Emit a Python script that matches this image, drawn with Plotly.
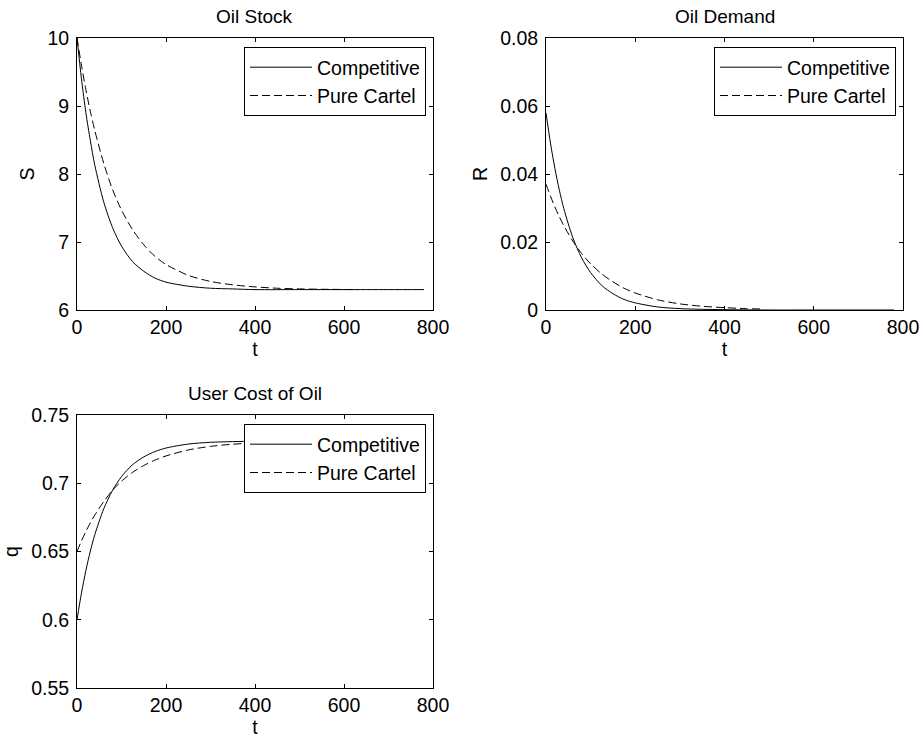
import plotly.graph_objects as go

# Time grids (years)
t_comp = [0, 10, 20, 30, 40, 60, 80, 100, 125, 150, 175, 200, 250, 300, 350, 400, 500, 600, 700, 780]
t_cart_s = [0, 10, 20, 30, 40, 60, 80, 100, 125, 150, 175, 200, 250, 300, 350, 400, 450, 500, 550, 630]
t_cart_r = [0, 10, 20, 30, 40, 60, 80, 100, 125, 150, 175, 200, 250, 300, 350, 400, 450, 480]
t_cart_q = [0, 10, 20, 30, 40, 60, 80, 100, 125, 150, 175, 200, 250, 300, 350, 400, 450, 500, 550, 630]

# Oil stock S
S_comp = [10.0, 9.40, 8.90, 8.49, 8.13, 7.59, 7.21, 6.94, 6.71, 6.57, 6.47, 6.41, 6.35, 6.32,
          6.31, 6.30, 6.30, 6.30, 6.30, 6.30]
S_cart = [10.0, 9.60, 9.24, 8.92, 8.64, 8.16, 7.77, 7.47, 7.18, 6.96, 6.79, 6.67, 6.51, 6.42,
          6.37, 6.34, 6.32, 6.31, 6.305, 6.30]

# Oil demand R
R_comp = [0.0580, 0.0491, 0.0416, 0.0352, 0.0298, 0.0213, 0.0153, 0.0110, 0.0072, 0.0048,
          0.0031, 0.0021, 0.0009, 0.0004, 0.0002, 0.0001, 0.0, 0.0, 0.0, 0.0]
R_cart = [0.0370, 0.0335, 0.0303, 0.0274, 0.0248, 0.0203, 0.0166, 0.0136, 0.0106, 0.0083,
          0.0064, 0.0050, 0.0030, 0.0018, 0.0011, 0.0007, 0.0004, 0.0003]

# User cost of oil q
q_comp = [0.600, 0.6195, 0.6361, 0.6503, 0.6623, 0.6812, 0.6949, 0.7049, 0.7136, 0.7193,
          0.7232, 0.7258, 0.7287, 0.7300, 0.7305, 0.7308, 0.7310, 0.7310, 0.7310, 0.7310]
q_cart = [0.650, 0.6577, 0.6647, 0.6710, 0.6767, 0.6865, 0.6950, 0.7015, 0.7080, 0.7130,
          0.7169, 0.7200, 0.7244, 0.7270, 0.7286, 0.7295, 0.7299, 0.7302, 0.7304, 0.7306]

series_names = ["Competitive", "Pure Cartel"]
titles = ["Oil Stock", "Oil Demand", "User Cost of Oil"]
y_labels = ["S", "R", "q"]
x_ticks = [0, 200, 400, 600, 800]
y_ticks = [
    ([6, 7, 8, 9, 10], ["6", "7", "8", "9", "10"]),
    ([0, 0.02, 0.04, 0.06, 0.08], ["0", "0.02", "0.04", "0.06", "0.08"]),
    ([0.55, 0.6, 0.65, 0.7, 0.75], ["0.55", "0.6", "0.65", "0.7", "0.75"]),
]
y_ranges = [[6, 10], [0, 0.08], [0.55, 0.75]]

FONT = "Liberation Sans, Arial, sans-serif"
FS = 19.5
W, H = 923, 742

# axes boxes in pixels: (left, right, top, bottom)
boxes = [(77, 433, 38, 310), (546, 903, 38, 310), (77, 433, 415, 688)]

panels = [
    ((t_comp, S_comp), (t_cart_s, S_cart)),
    ((t_comp, R_comp), (t_cart_r, R_cart)),
    ((t_comp, q_comp), (t_cart_q, q_cart)),
]

fig = go.Figure()
layout = dict(
    width=W, height=H, margin=dict(l=0, r=0, t=0, b=0, pad=0, autoexpand=False),
    paper_bgcolor="white", plot_bgcolor="white",
    font=dict(family=FONT, size=FS, color="black"),
    showlegend=True, annotations=[],
)

for i, ((tc, yc), (tp, yp)) in enumerate(panels):
    n = "" if i == 0 else str(i + 1)
    leg = "legend" if i == 0 else f"legend{i + 1}"
    fig.add_trace(go.Scatter(x=tc, y=yc, mode="lines", name=series_names[0],
                             line=dict(color="black", width=1, shape="spline", smoothing=0.8),
                             xaxis="x" + n, yaxis="y" + n, legend=leg))
    fig.add_trace(go.Scatter(x=tp, y=yp, mode="lines", name=series_names[1],
                             line=dict(color="black", width=1, dash="8px,4px", shape="spline", smoothing=0.8),
                             xaxis="x" + n, yaxis="y" + n, legend=leg))
    l, r, t, b = boxes[i]
    common = dict(showline=True, linecolor="black", linewidth=1, mirror="ticks",
                  ticks="inside", ticklen=4, tickcolor="black", tickwidth=1,
                  showgrid=False, zeroline=False, automargin=False, tickfont=dict(size=FS))
    layout["xaxis" + n] = dict(domain=[l / W, r / W], anchor="y" + n, range=[0, 800],
                              tickvals=x_ticks, ticktext=[str(v) for v in x_ticks],
                              title=dict(text="t", standoff=1, font=dict(size=FS)), **common)
    layout["yaxis" + n] = dict(domain=[1 - b / H, 1 - t / H], anchor="x" + n, range=y_ranges[i],
                              tickvals=y_ticks[i][0], ticktext=y_ticks[i][1],
                              ticklabelstandoff=3,
                              title=dict(text=y_labels[i], standoff=7, font=dict(size=FS)), **common)
    layout[leg] = dict(x=(r - 7) / W, y=1 - (t + 9) / H, xanchor="right", yanchor="top",
                       bgcolor="white", bordercolor="black", borderwidth=1,
                       font=dict(size=FS, family=FONT), itemwidth=62, tracegroupgap=0)
    layout["annotations"].append(dict(text=titles[i], xref="paper", yref="paper",
                                      x=(l + r) / 2 / W, y=1 - (t - 21.5) / H,
                                      xanchor="center", yanchor="middle", showarrow=False,
                                      font=dict(size=19, family=FONT)))

fig.update_layout(**layout)
fig.write_html("out.html")
